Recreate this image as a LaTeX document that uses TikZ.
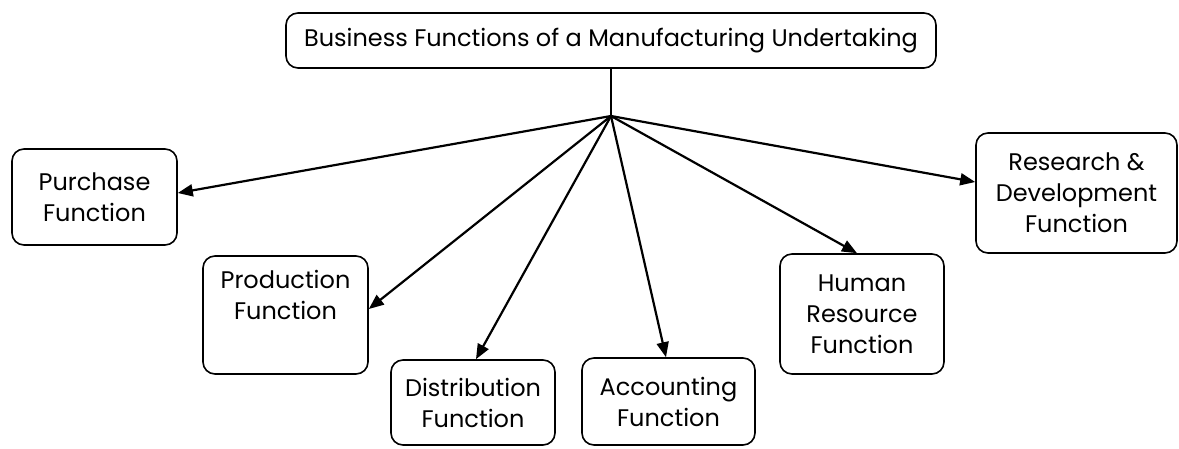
\documentclass[tikz,border=0pt]{standalone}
\usepackage{fontspec}
\setmainfont{Poppins}
\usetikzlibrary{arrows.meta}
\begin{document}
\begin{tikzpicture}[x=1pt,y=-1pt,
  box/.style={draw, line width=1.6pt, rounded corners=12pt, align=center, inner sep=0pt,
    font=\fontsize{24}{31}\selectfont},
  arr/.style={line width=2.2pt, -{Triangle[length=15pt,width=12pt]}},
]
\useasboundingbox (0,0) rectangle (1179,448);
\node[box, minimum width=650pt, minimum height=55pt, font=\fontsize{24}{29}\selectfont] (top) at (611,40.5) {Business Functions of a Manufacturing Undertaking};
\coordinate (hub) at (611,116);
\node[box, minimum width=165pt, minimum height=96pt] (pur) at (94.5,197) {Purchase\\Function};
\node[box, minimum width=165pt, minimum height=118pt] (prod) at (285.5,315) {Production\\Function\\\strut};
\node[box, minimum width=164pt, minimum height=85pt] (dist) at (473,402.5) {Distribution\\Function};
\node[box, minimum width=173pt, minimum height=87pt] (acc) at (668.5,401.5) {Accounting\\Function};
\node[box, minimum width=164pt, minimum height=120pt] (hr) at (862,314) {Human\\Resource\\Function};
\node[box, minimum width=201pt, minimum height=120pt] (rd) at (1076.5,193) {Research \&\\Development\\Function};
\draw[line width=1.2pt] (top.south) -- (hub);
\draw[arr] (hub) -- ([yshift=4pt]pur.east);
\draw[arr] (hub) -- ([yshift=6pt]prod.east);
\draw[arr] (hub) -- ([xshift=3pt]dist.north);
\draw[arr] (hub) -- ([xshift=-2.5pt]acc.north);
\draw[arr] (hub) -- ([xshift=-5pt]hr.north);
\draw[arr] (hub) -- ([yshift=11pt]rd.west);
\end{tikzpicture}
\end{document}
